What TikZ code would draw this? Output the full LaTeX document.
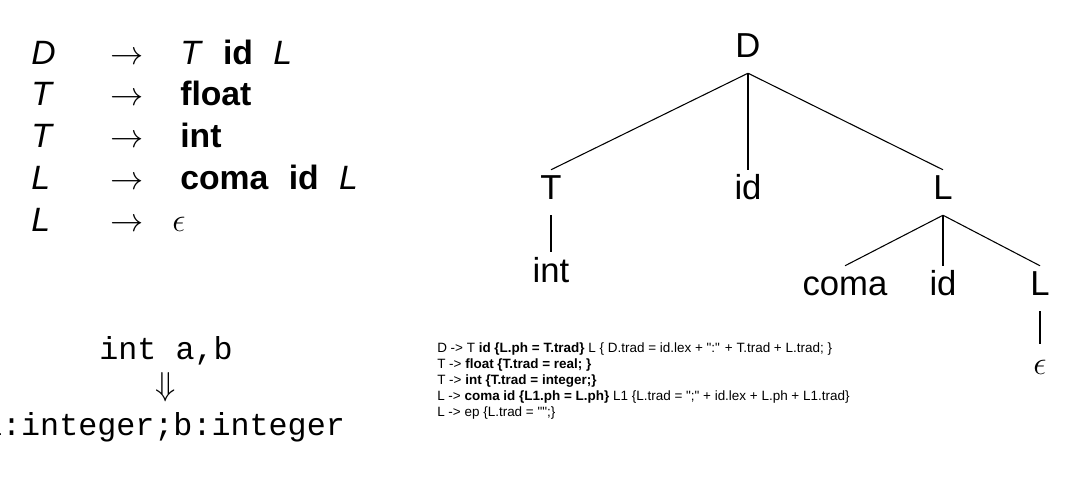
\documentclass[tikz,border=0pt]{standalone}
\usepackage{fontspec}
\setmainfont{Liberation Sans}
\setmonofont{Liberation Mono}
\begin{document}
\begin{tikzpicture}[x=0.75pt,y=-0.75pt,
  tn/.style={font=\fontsize{26}{30}\selectfont, inner sep=0pt, text height=22.1pt, text depth=11.6pt, anchor=base},
  gl/.style={font=\fontsize{25.3}{30}\selectfont, inner sep=0pt, anchor=base west},
  codeline/.style={font=\fontsize{10.1}{12}\selectfont, inner sep=0pt, anchor=base west},
  mono/.style={font=\ttfamily\fontsize{23.8}{28}\selectfont, inner sep=0pt, anchor=base},
  treeedge/.style={line width=0.8pt, black}]
\useasboundingbox (0,0) rectangle (1085,477);
\fill[white] (0,0) rectangle (1085,477);
\newcommand{\gsp}{\hspace{0.6em}}
\newcommand{\dq}{\textquotedbl}

% grammar
\node[gl] (g1l) at (31,64.3) {\textit{D}};
\node[gl] (g1a) at (110,64.3) {$\rightarrow$};
\node[gl] (g1r) at (180,64.3) {\textit{T}\gsp\textbf{id}\gsp\textit{L}};
\node[gl] (g2l) at (31,106) {\textit{T}};
\node[gl] (g2a) at (110,106) {$\rightarrow$};
\node[gl] (g2r) at (180,106) {\textbf{float}};
\node[gl] (g3l) at (31,148) {\textit{T}};
\node[gl] (g3a) at (110,148) {$\rightarrow$};
\node[gl] (g3r) at (180,148) {\textbf{int}};
\node[gl] (g4l) at (31,190) {\textit{L}};
\node[gl] (g4a) at (110,190) {$\rightarrow$};
\node[gl] (g4r) at (180,190) {\textbf{coma}\gsp\textbf{id}\gsp\textit{L}};
\node[gl] (g5l) at (31,232) {\textit{L}};
\node[gl] (g5a) at (110,232) {$\rightarrow$};
\node[gl] (g5r) at (172,232) {$\epsilon$};

% example
\node[mono] (src) at (166,359) {int a,b};
\node[mono] (dn) at (166,395) {$\Downarrow$};
\node[mono] (dst) at (164,435) {a:integer;b:integer};

% tree
\node[tn] (D) at (748,57.5) {D};
\node[tn] (T) at (551,199.5) {T};
\node[tn] (id) at (748,199.5) {id};
\node[tn] (L) at (943,199.5) {L};
\node[tn] (int) at (551,282) {int};
\node[tn] (coma) at (845,295.5) {coma};
\node[tn] (id2) at (943,295.5) {id};
\node[tn] (L2) at (1040,295.5) {L};
\node[tn] (eps) at (1040,374) {$\epsilon$};
\draw[treeedge] (D.south) -- (T.north);
\draw[treeedge] (D.south) -- (id.north);
\draw[treeedge] (D.south) -- (L.north);
\draw[treeedge] (T.south) -- (int.north);
\draw[treeedge] (L.south) -- (coma.north);
\draw[treeedge] (L.south) -- (id2.north);
\draw[treeedge] (L.south) -- (L2.north);
\draw[treeedge] (L2.south) -- (eps.north);

% translation scheme
\node[codeline] (c1) at (437,352.3) {D -> T \textbf{id \{L.ph = T.trad\}} L \{ D.trad = id.lex + \dq:\dq{} + T.trad + L.trad; \}};
\node[codeline] (c2) at (437,368.4) {T -> \textbf{float \{T.trad = real; \}}};
\node[codeline] (c3) at (437,384.5) {T -> \textbf{int \{T.trad = integer;\}}};
\node[codeline] (c4) at (437,400.6) {L -> \textbf{coma id \{L1.ph = L.ph\}} L1 \{L.trad = \dq;\dq{} + id.lex + L.ph + L1.trad\}};
\node[codeline] (c5) at (437,416.7) {L -> ep \{L.trad = \dq\dq;\}};
\end{tikzpicture}
\end{document}
